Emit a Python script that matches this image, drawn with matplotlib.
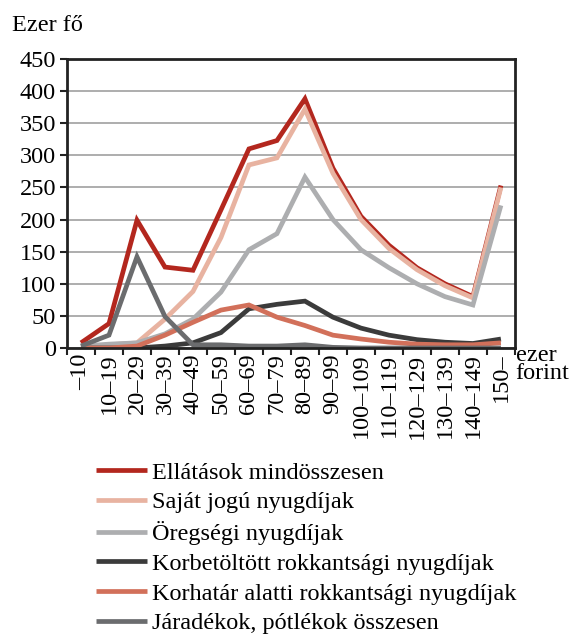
"""
Distribution of pension benefits by amount (thousand persons).
"""

import matplotlib
matplotlib.use("Agg")
import matplotlib.pyplot as plt
import numpy as np

plt.rcParams["font.family"] = ["Liberation Serif", "DejaVu Serif"]

categories = [
    "–10", "10–19", "20–29", "30–39", "40–49", "50–59", "60–69", "70–79",
    "80–89", "90–99", "100–109", "110–119", "120–129", "130–139",
    "140–149", "150–",
]

ellatasok = [8, 38, 199, 126, 121, 215, 310, 323, 388, 280, 205, 160, 125, 100, 80, 253]
sajat_jogu = [0, 5, 8, 45, 88, 172, 285, 296, 372, 272, 200, 155, 122, 97, 78, 250]
oregsegi = [3, 6, 8, 22, 45, 87, 153, 178, 266, 200, 153, 125, 100, 80, 67, 222]
korbetoltott = [0, 0, 0, 3, 8, 24, 61, 68, 73, 48, 31, 20, 13, 9, 7, 14]
korhatar_alatti = [0, 0, 3, 20, 40, 59, 67, 48, 35, 20, 14, 9, 6, 5, 5, 8]
jaradekok = [3, 20, 142, 49, 5, 5, 3, 3, 5, 1, 0, 0, 0, 0, 0, 0]

series = [
    ("Ellátások mindösszesen", ellatasok, "#b3271e"),
    ("Saját jogú nyugdíjak", sajat_jogu, "#e8b3a1"),
    ("Öregségi nyugdíjak", oregsegi, "#adaeb0"),
    ("Korbetöltött rokkantsági nyugdíjak", korbetoltott, "#3b3b3b"),
    ("Korhatár alatti rokkantsági nyugdíjak", korhatar_alatti, "#d2705a"),
    ("Járadékok, pótlékok összesen", jaradekok, "#6b6c6e"),
]

FS = 17.5

fig = plt.figure(figsize=(5.75, 6.39), dpi=100)
ax = fig.add_axes([0.1165, 0.4554, 0.779, 0.4523])

x = np.arange(len(categories))

lines = []
for label, values, color in series:
    (line,) = ax.plot(x, values, color=color, lw=3.4, label=label,
                      solid_joinstyle="miter", solid_capstyle="butt")
    lines.append(line)

ax.set_xlim(-0.5, len(categories) - 0.5)
ax.set_ylim(0, 450)
ax.set_yticks(np.arange(0, 451, 50))
ax.yaxis.grid(True, color="#a0a0a0", lw=1.2)
ax.set_axisbelow(True)

ax.set_xticks(x)
ax.set_xticklabels(categories, rotation=90, fontsize=FS)
ax.set_xticks(np.arange(-0.5, len(categories), 1), minor=True)
ax.tick_params(axis="x", which="major", length=0, pad=4)
ax.tick_params(axis="x", which="minor", length=5, width=1.5, color="#222222")
ax.tick_params(axis="y", labelsize=FS, length=5, width=1.5, color="#222222", pad=3)

for side in ["left", "bottom", "top", "right"]:
    ax.spines[side].set_linewidth(2)
    ax.spines[side].set_color("#222222")

fig.text(0.02, 0.96, "Ezer fő", fontsize=FS, ha="left", va="center")
fig.text(0.897, 0.43, "ezer\nforint", fontsize=FS, ha="left", va="center",
         linespacing=0.8)

fig.legend(
    handles=lines,
    loc="upper left",
    bbox_to_anchor=(0.15, 0.293),
    frameon=False,
    fontsize=FS,
    handlelength=2.1,
    handletextpad=0.2,
    labelspacing=0.32,
    borderaxespad=0,
)

fig.savefig("out.png", dpi=100)
plt.close(fig)
